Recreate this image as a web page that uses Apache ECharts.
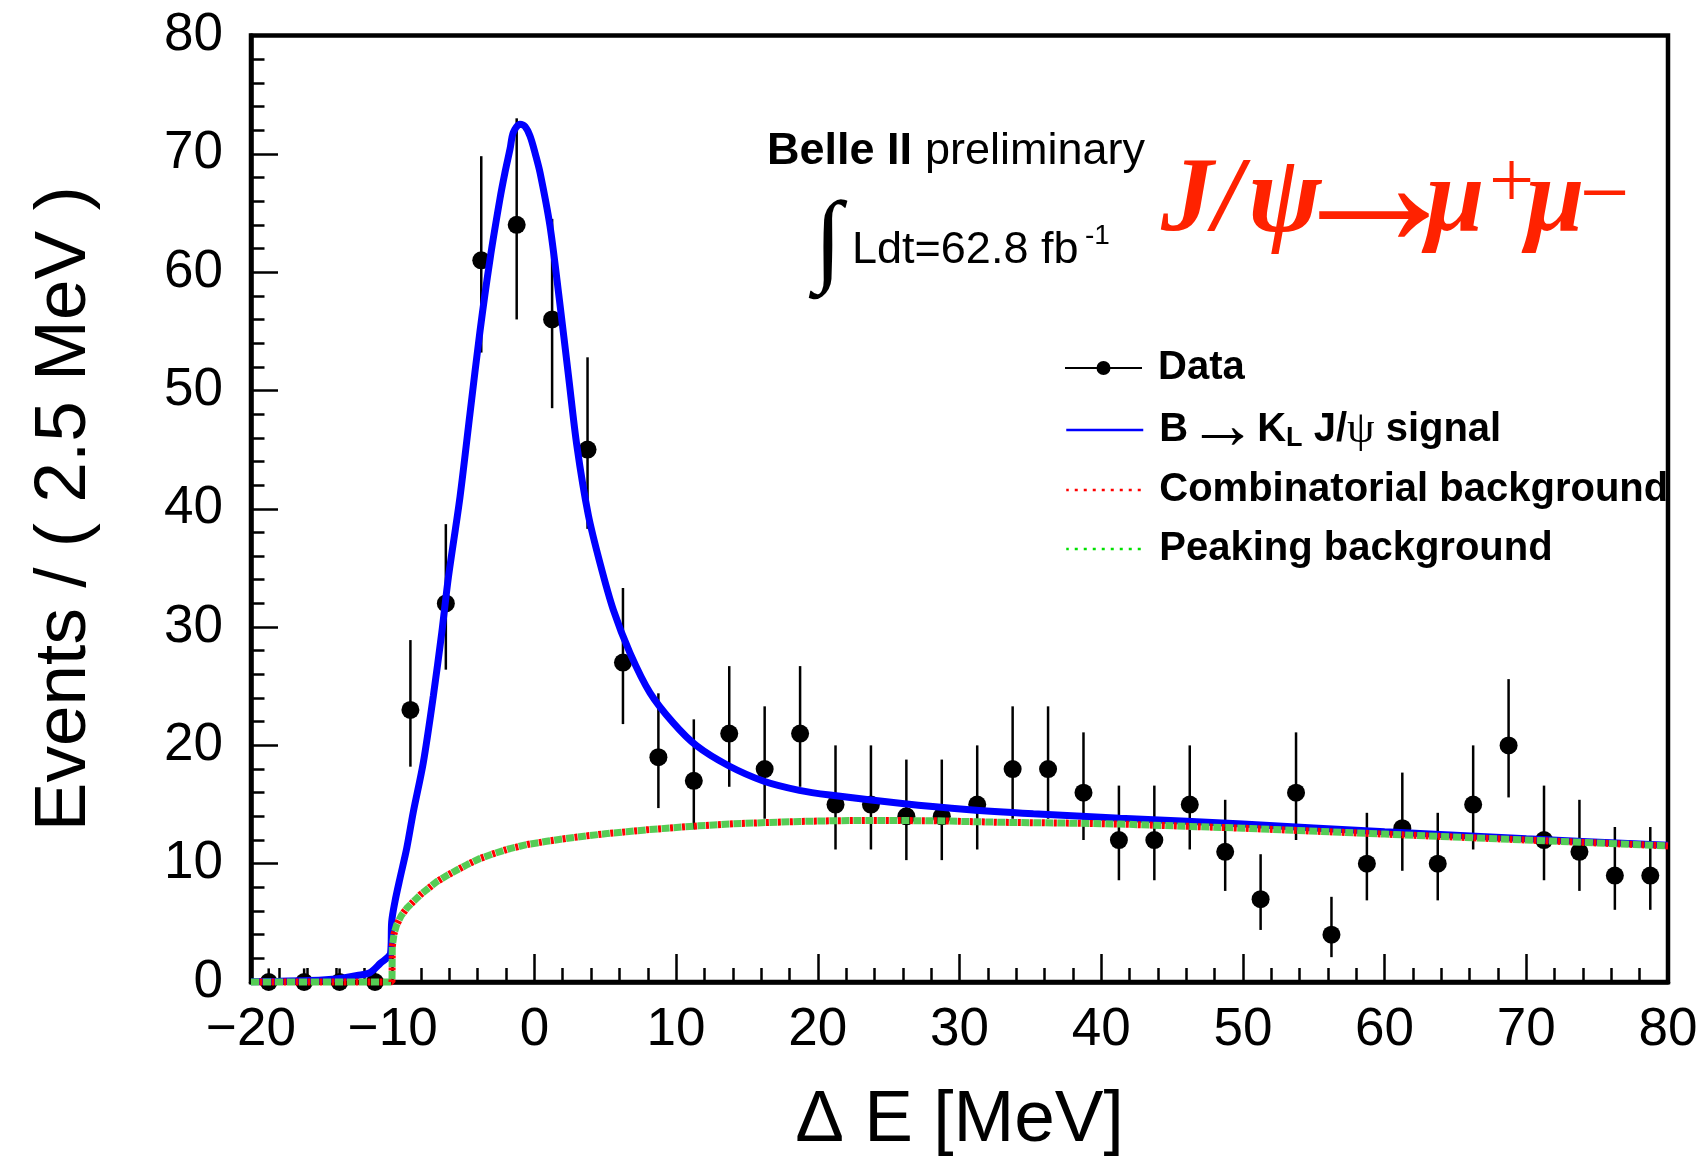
<!DOCTYPE html>
<html>
<head>
<meta charset="utf-8">
<script src="https://cdn.jsdelivr.net/npm/echarts@6/dist/echarts.min.js"></script>
<style>
  html, body { margin: 0; padding: 0; background: #fff; }
  #chart { width: 1702px; height: 1162px; }
</style>
</head>
<body>
<div id="chart"></div>
<script>
// Delta E distribution: binned data (2.5 MeV bins) with the fit result overlaid.
const binCenters = [-18.75, -16.25, -13.75, -11.25, -8.75, -6.25, -3.75, -1.25, 1.25, 3.75,
  6.25, 8.75, 11.25, 13.75, 16.25, 18.75, 21.25, 23.75, 26.25, 28.75,
  31.25, 33.75, 36.25, 38.75, 41.25, 43.75, 46.25, 48.75, 51.25, 53.75,
  56.25, 58.75, 61.25, 63.75, 66.25, 68.75, 71.25, 73.75, 76.25, 78.75];
const counts = [0, 0, 0, 0, 23, 32, 61, 64, 56, 45,
  27, 19, 17, 21, 18, 21, 15, 15, 14, 14,
  15, 18, 18, 16, 12, 12, 15, 11, 7, 16,
  4, 10, 13, 10, 15, 20, 12, 11, 9, 9];
// Poisson (68%) interval bounds of each bin
const errLow = [0, 0, 0, 0, 18.2, 26.4, 53.2, 56.0, 48.5, 38.3,
  21.8, 14.7, 12.9, 16.5, 13.8, 16.5, 11.2, 11.2, 10.3, 10.3,
  11.2, 13.8, 13.8, 12.0, 8.6, 8.6, 11.2, 7.7, 4.4, 12.0,
  2.1, 6.9, 9.4, 6.9, 11.2, 15.6, 8.6, 7.7, 6.1, 6.1];
const errHigh = [1.15, 1.15, 1.15, 1.15, 28.9, 38.7, 69.8, 73.0, 64.5, 52.8,
  33.3, 24.4, 22.2, 26.7, 23.3, 26.7, 20.0, 20.0, 18.8, 18.8,
  20.0, 23.3, 23.3, 21.1, 16.6, 16.6, 20.0, 15.4, 10.8, 21.1,
  7.2, 14.3, 17.7, 14.3, 20.0, 25.6, 16.6, 15.4, 13.1, 13.1];

// Total fit (signal + background), [Delta E, events]
const totalFit = [[-20, 0.03], [-18, 0.06], [-16, 0.12], [-14.5, 0.22], [-13.5, 0.35], [-12.5, 0.55],
  [-11.6, 0.8], [-10.9, 1.55], [-10.15, 2.45], [-10.07, 5.1], [-9.84, 6.8], [-9.49, 8.75],
  [-9.01, 11.3], [-8.55, 14.35], [-7.84, 18.55], [-7.13, 24.2], [-6.54, 29.5], [-6.07, 34.2],
  [-5.25, 41.0], [-4.55, 48.0], [-3.84, 55.0], [-3.13, 61.1], [-2.43, 66.2], [-2.08, 68.4],
  [-1.72, 70.4], [-1.49, 71.8], [-1.02, 72.5], [-0.66, 72.3], [-0.31, 71.5], [0.04, 70.1],
  [0.4, 68.4], [1.1, 63.9], [1.75, 57.8], [2.4, 51.3],
  [3.0, 45.3], [3.8, 39.5], [4.63, 35.4], [5.57, 31.45], [6.75, 27.8], [8.16, 24.44],
  [9.8, 21.9], [11.45, 19.96], [13.67, 18.3], [16.2, 16.97], [18.7, 16.2], [20.86, 15.8], [25.8, 15.11],
  [30.51, 14.58], [35.21, 14.22], [41.33, 13.85], [50, 13.35], [60, 12.7], [70, 12.1], [80, 11.55]];
// Combinatorial background component
const combBkg = [[-20, 0], [-10.05, 0], [-10.03, 3.0], [-9.9, 4.1], [-9.72, 4.83], [-9.4, 5.6],
  [-9.01, 6.23], [-8.5, 6.85], [-8.07, 7.35], [-7.5, 7.9], [-6.9, 8.47], [-6.2, 8.98], [-5.48, 9.45],
  [-4.7, 9.95], [-3.84, 10.44], [-2.8, 10.88], [-1.72, 11.28], [-0.5, 11.62],
  [0.87, 11.89], [2.2, 12.13], [3.69, 12.35], [5.0, 12.53], [6.5, 12.7], [7.9, 12.86], [9.34, 13.0],
  [11.6, 13.2], [14.04, 13.37], [16.4, 13.48], [18.74, 13.57], [21.1, 13.63],
  [23.45, 13.66], [28.15, 13.63], [32.86, 13.5], [37.57, 13.43], [41.33, 13.35], [50, 13.0],
  [60, 12.5], [70, 12.0], [80, 11.5]];
// Peaking background component (lies on top of the combinatorial one)
const peakBkg = [[-20, 0], [-10.05, 0], [-10.03, 3.0], [-9.9, 4.1], [-9.72, 4.83], [-9.4, 5.6],
  [-9.01, 6.23], [-8.5, 6.85], [-8.07, 7.35], [-7.5, 7.9], [-6.9, 8.47], [-6.2, 8.98], [-5.48, 9.45],
  [-4.7, 9.95], [-3.84, 10.44], [-2.8, 10.88], [-1.72, 11.28], [-0.5, 11.62],
  [0.87, 11.89], [2.2, 12.13], [3.69, 12.35], [5.0, 12.53], [6.5, 12.7], [7.9, 12.86], [9.34, 13.0],
  [11.6, 13.2], [14.04, 13.37], [16.4, 13.48], [18.74, 13.57], [21.1, 13.63],
  [23.45, 13.66], [28.15, 13.63], [32.86, 13.5], [37.57, 13.43], [41.33, 13.35], [50, 13.0],
  [60, 12.5], [70, 12.0], [80, 11.5]];

const SANS = '"Liberation Sans", Arial, Helvetica, sans-serif';
const SERIF = '"Liberation Serif", "Times New Roman", serif';
const SIGNAL = 'B \u2192 KL J/\u03c8 signal';
const RED = '#ff2200';
const minus = v => String(v).replace('-', '\u2212');

const chart = echarts.init(document.getElementById('chart'), null, { renderer: 'canvas' });

const legendBase = {
  orient: 'horizontal', left: 1065, padding: 0, itemWidth: 77, itemHeight: 14, itemGap: 0,
  selectedMode: false,
  formatter: name => name === SIGNAL
    ? '{b|B}{ar|\u2192}{b|K}{sub|L} {b|J/}{psi|\u03c8} {b|signal}' : name,
  textStyle: {
    fontFamily: SANS, fontWeight: 'bold', fontSize: 40, lineHeight: 44, color: '#000',
    padding: [0, 0, 0, 11],
    rich: {
      b: { fontFamily: SANS, fontWeight: 'bold', fontSize: 40, lineHeight: 44, color: '#000' },
      ar: { fontFamily: SERIF, fontWeight: 'normal', fontSize: 70, lineHeight: 44, width: 69, align: 'center', color: '#000' },
      sub: { fontFamily: SANS, fontWeight: 'bold', fontSize: 27, lineHeight: 8, verticalAlign: 'bottom', color: '#000' },
      psi: { fontFamily: SERIF, fontWeight: 'normal', fontSize: 44, lineHeight: 44, color: '#000' }
    }
  }
};

const txt = (x, y, text, font, fill, align) => ({
  type: 'text', style: { x, y, text, font, fill: fill || '#000', align: align || 'left', verticalAlign: 'middle' }
});

const option = {
  animation: false,
  backgroundColor: '#fff',
  grid: { left: 251, top: 35.5, right: 34, bottom: 174.5, show: true, borderColor: '#000', borderWidth: 4.5, backgroundColor: 'transparent' },
  xAxis: {
    type: 'value', min: -20, max: 80, interval: 10,
    axisLine: { show: true, onZero: false, lineStyle: { color: '#000', width: 4.5 } },
    axisTick: { show: true, inside: true, length: 28, lineStyle: { color: '#000', width: 2.5 } },
    minorTick: { show: true, splitNumber: 5, length: 14, lineStyle: { color: '#000', width: 2.5 } },
    splitLine: { show: false },
    axisLabel: { fontFamily: SANS, fontSize: 53, color: '#000', margin: 22, formatter: minus },
    name: '\u0394 E [MeV]', nameLocation: 'middle', nameGap: 102,
    nameTextStyle: { fontFamily: SANS, fontSize: 73, color: '#000' }
  },
  yAxis: {
    type: 'value', min: 0, max: 80, interval: 10,
    axisLine: { show: true, onZero: false, lineStyle: { color: '#000', width: 4.5 } },
    axisTick: { show: true, inside: true, length: 27, lineStyle: { color: '#000', width: 2.5 } },
    minorTick: { show: true, splitNumber: 5, length: 13.5, lineStyle: { color: '#000', width: 2.5 } },
    splitLine: { show: false },
    axisLabel: { fontFamily: SANS, fontSize: 53, color: '#000', margin: 28, formatter: minus },
    name: 'Events / ( 2.5 MeV )', nameLocation: 'middle', nameGap: 150,
    nameTextStyle: { fontFamily: SANS, fontSize: 73, color: '#000' }
  },
  legend: [
    Object.assign({}, legendBase, { top: 346, data: [{ name: 'Data',
      icon: 'path://M0,6H77V8H0Z M31.5,7A7,7,0,1,1,45.5,7A7,7,0,1,1,31.5,7Z' }],
      itemStyle: { color: '#000' } }),
    Object.assign({}, legendBase, { top: 395, data: [{ name: SIGNAL }],
      itemStyle: { opacity: 0 }, lineStyle: { width: 2.5 } }),
    Object.assign({}, legendBase, { top: 468, data: [{ name: 'Combinatorial background' }],
      itemStyle: { opacity: 0 }, lineStyle: { width: 2.5, type: [3, 6] } }),
    Object.assign({}, legendBase, { top: 527, data: [{ name: 'Peaking background' }],
      itemStyle: { opacity: 0 }, lineStyle: { width: 2.5, type: [3, 6], color: '#00e000' } })
  ],
  graphic: [
    txt(767, 152, 'Belle II', 'bold 45px ' + SANS),
    txt(925, 152, 'preliminary', '45px ' + SANS),
    txt(828, 245.6, '\u222b', '102px ' + SERIF, '#000', 'center'),
    txt(852, 251, 'Ldt=62.8 fb', '45px ' + SANS),
    txt(1085, 236, '-1', '28px ' + SANS),
    txt(1161, 202.6, 'J/', 'italic bold 105px ' + SERIF, RED),
    txt(1248, 202.6, '\u03c8', 'italic bold 110px ' + SERIF, RED),
    txt(1374, 197.7, '\u2192', '185px ' + SERIF, RED, 'center'),
    txt(1426, 202.6, '\u03bc', 'italic bold 105px ' + SERIF, RED),
    txt(1489, 185.5, '+', '80px ' + SERIF, RED),
    txt(1526, 202.6, '\u03bc', 'italic bold 105px ' + SERIF, RED),
    txt(1580, 199, '\u2212', '88px ' + SERIF, RED)
  ],
  series: [
    {
      name: 'Data errors', type: 'custom', clip: false, z: 2,
      data: binCenters.map((x, i) => [x, errLow[i], errHigh[i]]),
      encode: { x: 0, y: [1, 2] },
      renderItem: (params, api) => {
        const a = api.coord([api.value(0), api.value(1)]);
        const b = api.coord([api.value(0), api.value(2)]);
        return { type: 'line', shape: { x1: a[0], y1: a[1], x2: b[0], y2: b[1] },
          style: { stroke: '#000', lineWidth: 2.5 } };
      }
    },
    {
      name: 'Data', type: 'scatter', clip: false, z: 3,
      data: binCenters.map((x, i) => [x, counts[i]]),
      symbol: 'circle', symbolSize: 18, itemStyle: { color: '#000', opacity: 1 }
    },
    {
      name: SIGNAL, type: 'line', clip: false, z: 4, data: totalFit,
      symbol: 'none', smooth: 0.3,
      lineStyle: { color: '#0000ff', width: 7 }, itemStyle: { color: '#0000ff' }
    },
    {
      name: 'Peaking background', type: 'line', clip: false, z: 5, data: peakBkg,
      symbol: 'none', smooth: false,
      lineStyle: { color: '#55cc55', width: 7, type: [8, 4] }, itemStyle: { color: '#55cc55' }
    },
    {
      name: 'Combinatorial background', type: 'line', clip: false, z: 6, data: combBkg,
      symbol: 'none', smooth: false,
      lineStyle: { color: '#ff0000', width: 7, type: [3, 9], dashOffset: -8.5 }, itemStyle: { color: '#ff0000' }
    }
  ]
};

chart.setOption(option);
</script>
</body>
</html>
